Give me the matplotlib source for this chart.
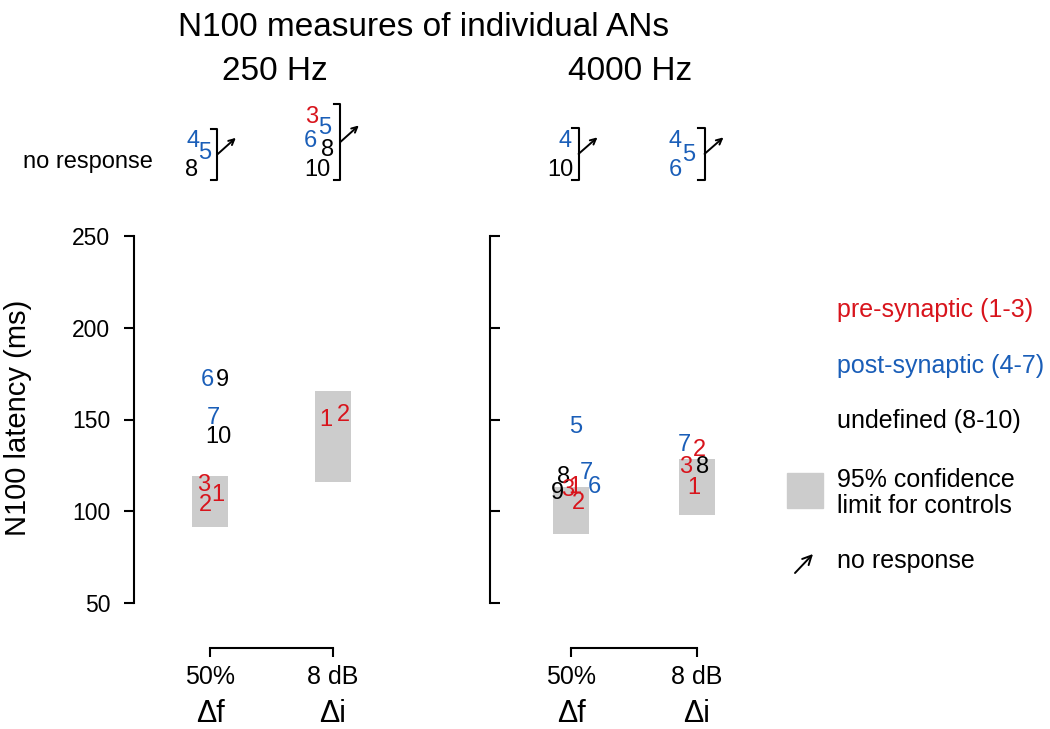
import matplotlib
matplotlib.use('Agg')
import matplotlib.pyplot as plt
from matplotlib.patches import Rectangle, FancyArrowPatch

plt.rcParams['font.family'] = ['Liberation Sans', 'DejaVu Sans']

# latencies (ms) of individual ANs, id = subject number
ids_250_df = [6, 9, 7, 10, 3, 1, 2]
lat_250_df = [171.5, 171.5, 150.8, 140.5, 114.3, 108.9, 103.4]
jit_250_df = [-0.024, 0.098, 0.024, 0.065, -0.049, 0.065, -0.041]

ids_250_di = [1, 2]
lat_250_di = [149.7, 152.5]
jit_250_di = [-0.057, 0.081]

ids_4000_df = [8, 9, 5, 7, 6, 3, 1, 2]
lat_4000_df = [118.7, 110.0, 145.9, 120.8, 113.2, 111.6, 113.2, 104.5]
jit_4000_df = [-0.063, -0.111, 0.040, 0.119, 0.183, -0.024, 0.032, 0.056]

ids_4000_di = [8, 7, 2, 3, 1]
lat_4000_di = [124.1, 136.1, 133.4, 124.1, 112.7]
jit_4000_di = [0.048, -0.103, 0.016, -0.087, -0.024]

# 95% confidence limits for controls (low, high)
ctrl_250 = [(91.4, 119.2), (116.0, 165.5)]
ctrl_4000 = [(87.6, 113.2), (98.0, 128.5)]

# subjects with no response (stacked above the plot)
nr_250_df = ([4, 5, 8], [301.5, 295, 286], [-0.138, -0.041, -0.146])
nr_250_di = ([3, 5, 6, 8, 10], [315, 309, 301.5, 297, 286], [-0.171, -0.065, -0.187, -0.041, -0.130])
nr_4000_df = ([4, 10], [302, 286], [-0.048, -0.087])
nr_4000_di = ([4, 5, 6], [302, 294, 286], [-0.175, -0.063, -0.175])

conds = ['50%', '8 dB']
cond_sym = ['\u0394f', '\u0394i']

RED = '#d8141c'
BLUE = '#1a5eb8'
GREY = '#cccccc'


def id_color(n):
    if n <= 3:
        return RED
    if n <= 7:
        return BLUE
    return 'black'


W, H = 1050, 729
fig = plt.figure(figsize=(10.5, 7.29), dpi=100)

ax1 = fig.add_axes([134 / W, 126 / H, 260.5 / W, 367 / H])
ax2 = fig.add_axes([490 / W, 126 / H, 270 / W, 367 / H])

panels = [
    (ax1, -0.618, [(ids_250_df, lat_250_df, jit_250_df), (ids_250_di, lat_250_di, jit_250_di)],
     ctrl_250, [nr_250_df, nr_250_di]),
    (ax2, -0.643, [(ids_4000_df, lat_4000_df, jit_4000_df), (ids_4000_di, lat_4000_di, jit_4000_di)],
     ctrl_4000, [nr_4000_df, nr_4000_di]),
]

for ax, xl, pts, ctrl, nores in panels:
    ax.set_xlim(xl, 1.5)
    ax.set_ylim(50, 250)
    ax.patch.set_visible(False)
    ax.spines['top'].set_visible(False)
    ax.spines['right'].set_visible(False)
    ax.spines['left'].set_linewidth(1.5)
    ax.spines['bottom'].set_linewidth(1.5)
    ax.spines['bottom'].set_position(('outward', 32.4))
    ax.spines['bottom'].set_bounds(0, 1)
    ax.set_xticks([0, 1])
    ax.set_xticklabels(conds, fontsize=18)
    ax.tick_params(axis='x', length=6.5, width=1.5, pad=6)
    ax.set_yticks([50, 100, 150, 200, 250])

    # control boxes
    lo = [c[0] for c in ctrl]
    hi = [c[1] for c in ctrl]
    ax.bar([0, 1], [h - l for h, l in zip(hi, lo)], bottom=lo, width=0.29,
           color=GREY, zorder=1)

    for k, (ids, lat, jit) in enumerate(pts):
        for n, v, j in zip(ids, lat, jit):
            ax.text(k + j, v, str(n), color=id_color(n), fontsize=17,
                    ha='center', va='center', zorder=3)

    for k, (ids, lev, jit) in enumerate(nores):
        for n, v, j in zip(ids, lev, jit):
            ax.text(k + j, v, str(n), color=id_color(n), fontsize=17,
                    ha='center', va='center')
        bx = k + 0.06
        top = max(lev) + 7
        bot = min(lev) - 5.5
        ax.plot([bx - 0.05, bx, bx, bx - 0.05], [top, top, bot, bot],
                color='black', lw=1.5, clip_on=False)
        mid = (top + bot) / 2
        ax.annotate('', xy=(bx + 0.15, mid + 9), xytext=(bx, mid),
                    arrowprops=dict(arrowstyle='->', lw=1.4, color='black',
                                    shrinkA=0, shrinkB=0),
                    annotation_clip=False)

    for k, s in enumerate(cond_sym):
        ax.text(k, -10.5, s, fontsize=22, ha='center', va='center')

ax1.tick_params(axis='y', direction='out', length=7.2, width=1.5, pad=10, labelsize=16.5)
ax2.tick_params(axis='y', direction='in', length=7.2, width=1.5, labelleft=False)

fig.text(18 / W, 1 - 418 / H, 'N100 latency (ms)', rotation=90, fontsize=21,
         ha='center', va='center')

fig.text(424 / W, 1 - 28 / H, 'N100 measures of individual ANs', fontsize=24,
         ha='center', va='center')
fig.text(275 / W, 1 - 72 / H, '250 Hz', fontsize=24, ha='center', va='center')
fig.text(630 / W, 1 - 72 / H, '4000 Hz', fontsize=24, ha='center', va='center')

fig.text(23 / W, 1 - 162 / H, 'no response', fontsize=17, ha='left', va='center')

# legend
fig.text(837 / W, 1 - 310 / H, 'pre-synaptic (1-3)', color=RED, fontsize=18, va='center')
fig.text(837 / W, 1 - 366 / H, 'post-synaptic (4-7)', color=BLUE, fontsize=18, va='center')
fig.text(837 / W, 1 - 421 / H, 'undefined (8-10)', color='black', fontsize=18, va='center')
fig.text(837 / W, 1 - 493 / H, '95% confidence\nlimit for controls', fontsize=18,
         va='center', linespacing=1.1)
fig.text(837 / W, 1 - 561 / H, 'no response', fontsize=18, va='center')
fig.patches.append(Rectangle((787 / W, 1 - 508 / H), 36 / W, 35 / H,
                             transform=fig.transFigure, color=GREY))
fig.add_artist(FancyArrowPatch(
    (795 / W, 1 - 573 / H), (813 / W, 1 - 554 / H), transform=fig.transFigure,
    arrowstyle='->', mutation_scale=16, lw=1.4, color='black',
    shrinkA=0, shrinkB=0))

fig.savefig('out.png', dpi=100)
